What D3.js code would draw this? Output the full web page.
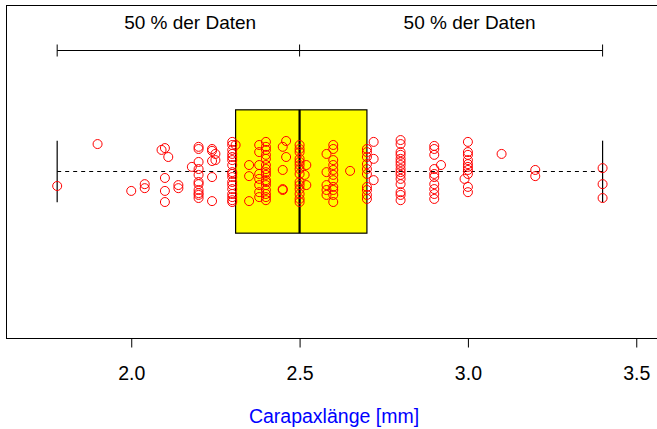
<!DOCTYPE html>
<html>
<head>
<meta charset="utf-8">
<script src="https://cdn.jsdelivr.net/npm/d3@7"></script>
<style>
  html, body { margin: 0; padding: 0; background: #fff; }
  svg { display: block; font-family: "Liberation Sans", Arial, Helvetica, sans-serif; }
</style>
</head>
<body>
<svg id="chart" width="657" height="429"></svg>
<script>
// ---- data ----
// Carapax length values (mm) and their vertical jitter (R stripchart units, +/-0.1)
const laenge = [
  1.78, 1.90, 2.00, 2.04, 2.04,
  2.09, 2.10, 2.10, 2.10, 2.10, 2.11, 2.14, 2.14, 2.18,
  2.20, 2.20, 2.20, 2.20, 2.20, 2.20, 2.20, 2.20, 2.20, 2.20, 2.20,
  2.24, 2.24, 2.24, 2.24, 2.24, 2.25, 2.25,
  2.30, 2.30, 2.30, 2.30, 2.30, 2.30, 2.30, 2.30, 2.30, 2.30, 2.30, 2.30, 2.30, 2.30, 2.30, 2.30, 2.30, 2.31,
  2.35, 2.35, 2.35,
  2.38, 2.38, 2.38, 2.38, 2.38, 2.38, 2.38, 2.38,
  2.40, 2.40, 2.40, 2.40, 2.40, 2.40, 2.40, 2.40, 2.40, 2.40, 2.40, 2.40, 2.40, 2.40, 2.40, 2.40,
  2.45, 2.45, 2.45, 2.45, 2.46, 2.46,
  2.50, 2.50, 2.50, 2.50, 2.50, 2.50, 2.50, 2.50, 2.50, 2.50, 2.50, 2.50, 2.50, 2.50,
  2.515, 2.52, 2.52,
  2.58, 2.58, 2.58, 2.58, 2.58,
  2.60, 2.60, 2.60, 2.60, 2.60, 2.60, 2.60, 2.60, 2.60, 2.60, 2.60,
  2.65,
  2.70, 2.70, 2.70, 2.70, 2.70, 2.70, 2.70, 2.70, 2.70, 2.70, 2.72, 2.72, 2.72,
  2.80, 2.80, 2.80, 2.80, 2.80, 2.80, 2.80, 2.80, 2.80, 2.80, 2.80, 2.80, 2.80, 2.80, 2.80,
  2.90, 2.90, 2.90, 2.90, 2.90, 2.90, 2.90, 2.90, 2.90, 2.90, 2.92,
  3.00, 3.00, 3.00, 3.00, 3.00, 3.00, 3.00, 3.00, 3.00, 3.00, 2.99,
  3.10, 3.20, 3.20, 3.40, 3.40, 3.40
];
const jitter = [
  -0.047, 0.089, -0.063, -0.041, -0.054,
  0.070, 0.076, -0.021, -0.063, -0.099, 0.047, -0.044, -0.054, 0.015,
  0.080, 0.073, 0.031, 0.008, -0.011, -0.034, -0.041, -0.060, -0.070, -0.076, -0.086,
  0.073, 0.067, 0.034, -0.018, -0.096, 0.057, 0.037,
  0.096, 0.086, 0.070, 0.057, 0.047, 0.037, 0.021, -0.002, -0.008, -0.018, -0.034, -0.044, -0.057, -0.073, -0.083, -0.093, -0.099, 0.086,
  0.021, -0.015, -0.096,
  0.086, 0.063, 0.021, -0.008, -0.024, -0.044, -0.067, -0.083,
  0.096, 0.080, 0.070, 0.054, 0.041, 0.021, 0.008, -0.002, -0.011, -0.028, -0.034, -0.044, -0.060, -0.073, -0.083, -0.093,
  0.080, 0.005, -0.057, -0.060, 0.099, 0.047,
  0.086, 0.073, 0.063, 0.041, 0.031, 0.021, 0.008, -0.008, -0.034, -0.044, -0.057, -0.073, -0.089, -0.099,
  -0.011, 0.021, -0.044,
  0.057, -0.002, -0.044, -0.060, -0.076,
  0.086, 0.073, 0.037, 0.021, 0.005, -0.011, -0.028, -0.050, -0.060, -0.076, -0.099,
  0.002,
  0.073, 0.063, 0.047, 0.024, 0.008, -0.008, -0.050, -0.060, -0.076, -0.089, 0.096, 0.041, -0.028,
  0.102, 0.089, 0.063, 0.054, 0.041, 0.031, 0.021, 0.008, -0.002, -0.011, -0.024, -0.041, -0.067, -0.076, -0.093,
  0.083, 0.073, 0.054, 0.008, -0.008, -0.018, -0.041, -0.057, -0.073, -0.089, 0.021,
  0.096, 0.063, 0.054, 0.037, 0.024, 0.015, 0.005, -0.008, -0.050, -0.067, -0.024,
  0.057, 0.005, -0.015, 0.011, -0.041, -0.086
];
// five-number summary: min, Q1, median, Q3, max
const boxStats = [1.78, 2.31, 2.50, 2.70, 3.40];
const xTicks = [2.0, 2.5, 3.0, 3.5];
const tickLabels = ["2.0", "2.5", "3.0", "3.5"];
const halfLabels = ["50 % der Daten", "50 % der Daten"];
const halfLabelX = [2.175, 3.005];
const xTitle = "Carapaxlänge [mm]";

// ---- layout ----
const svg = d3.select("#chart");
const plot = { left: 6, right: 660.5, top: 5, bottom: 338 };

const x = d3.scaleLinear().domain([1.628, 3.572]).range([plot.left, plot.right]);
const y = d3.scaleLinear().domain([0.46, 1.54]).range([plot.bottom, plot.top]);

const [mn, q1, med, q3, mx] = boxStats;
const yc = y(1);

// plot border
svg.append("rect")
  .attr("x", plot.left + 0.5).attr("y", plot.top + 0.5)
  .attr("width", plot.right - plot.left).attr("height", plot.bottom - plot.top)
  .attr("fill", "none").attr("stroke", "#000").attr("stroke-width", 1);

// whiskers (dashed)
const g = svg.append("g");
g.append("line")
  .attr("x1", x(mn)).attr("x2", x(q1)).attr("y1", yc).attr("y2", yc)
  .attr("stroke", "#000").attr("stroke-dasharray", "4,4");
g.append("line")
  .attr("x1", x(q3)).attr("x2", x(mx)).attr("y1", yc).attr("y2", yc)
  .attr("stroke", "#000").attr("stroke-dasharray", "4,4");
// whisker caps
[mn, mx].forEach(v => {
  g.append("line")
    .attr("x1", x(v)).attr("x2", x(v))
    .attr("y1", y(1.1)).attr("y2", y(0.9))
    .attr("stroke", "#000").attr("stroke-width", 1.2);
});
// box
g.append("rect")
  .attr("x", x(q1)).attr("y", y(1.2))
  .attr("width", x(q3) - x(q1)).attr("height", y(0.8) - y(1.2))
  .attr("fill", "#ffff00").attr("stroke", "#000").attr("stroke-width", 1.2);
// median
g.append("line")
  .attr("x1", x(med)).attr("x2", x(med))
  .attr("y1", y(1.2)).attr("y2", y(0.8))
  .attr("stroke", "#000").attr("stroke-width", 2.2);

// points
svg.append("g").selectAll("circle")
  .data(laenge.map((v, i) => ({ v, j: jitter[i] })))
  .join("circle")
  .attr("cx", d => x(d.v))
  .attr("cy", d => y(1 + d.j))
  .attr("r", 4.5)
  .attr("fill", "none")
  .attr("stroke", "#ff0000")
  .attr("stroke-width", 1);

// x axis
const axis = d3.axisBottom(x).tickValues(xTicks)
  .tickFormat((d, i) => tickLabels[i]).tickSize(9).tickPadding(19);
const ax = svg.append("g").attr("transform", `translate(0,${plot.bottom + 0.5})`).call(axis);
ax.select(".domain").remove();
ax.selectAll("text").attr("font-size", 19.5).attr("fill", "#000")
  .attr("font-family", '"Liberation Sans", Arial, sans-serif');
ax.selectAll("line").attr("stroke", "#000");

svg.append("text")
  .attr("x", 334).attr("y", 423)
  .attr("text-anchor", "middle").attr("font-size", 19.5).attr("fill", "#0000ff")
  .text(xTitle);

// 50% brackets
const by = 50.5;
const br = svg.append("g").attr("stroke", "#000").attr("stroke-width", 1);
br.append("line").attr("x1", x(mn)).attr("x2", x(mx)).attr("y1", by).attr("y2", by);
[mn, med, mx].forEach(v => {
  br.append("line").attr("x1", x(v)).attr("x2", x(v)).attr("y1", by - 6).attr("y2", by + 6);
});
svg.selectAll(".half").data(halfLabels).join("text")
  .attr("class", "half")
  .attr("x", (d, i) => x(halfLabelX[i])).attr("y", 29)
  .attr("text-anchor", "middle").attr("font-size", 19).attr("fill", "#000")
  .text(d => d);
</script>
</body>
</html>
